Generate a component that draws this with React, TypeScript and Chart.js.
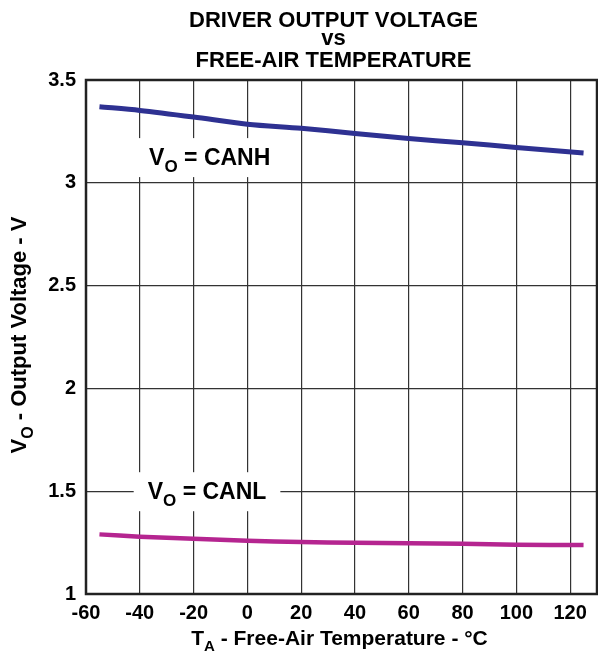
import React, { useEffect, useRef } from 'react';
import { Chart, registerables } from 'chart.js';

Chart.register(...registerables);

const temps = [-55, -40, -20, 0, 20, 40, 60, 80, 100, 125];
const canh = [3.37, 3.352, 3.32, 3.285, 3.265, 3.24, 3.215, 3.195, 3.172, 3.145];
const canl = [1.29, 1.279, 1.269, 1.259, 1.253, 1.249, 1.247, 1.245, 1.24, 1.238];
const xTicks = [-60, -40, -20, 0, 20, 40, 60, 80, 100, 120];
const yTicks = [1, 1.5, 2, 2.5, 3, 3.5];
const titleLines = ['DRIVER OUTPUT VOLTAGE', 'vs', 'FREE-AIR TEMPERATURE'];
const canhLabel = { x: -14, y: 3.125, main: 'V', sub: 'O', rest: ' = CANH' };
const canlLabel = { x: -15, y: 1.5, main: 'V', sub: 'O', rest: ' = CANL' };

const FAMILY = "'Liberation Sans', Arial, Helvetica, sans-serif";

type Part = { t: string; sub?: boolean };

function drawParts(ctx: CanvasRenderingContext2D, parts: Part[], cx: number, baseline: number, size: number) {
  const subSize = Math.round(size * 0.72);
  let total = 0;
  const widths = parts.map((p) => {
    ctx.font = `bold ${p.sub ? subSize : size}px ${FAMILY}`;
    const w = ctx.measureText(p.t).width;
    total += w;
    return w;
  });
  let x = cx - total / 2;
  ctx.textAlign = 'left';
  ctx.textBaseline = 'alphabetic';
  parts.forEach((p, i) => {
    ctx.font = `bold ${p.sub ? subSize : size}px ${FAMILY}`;
    ctx.fillText(p.t, x, baseline + (p.sub ? size * 0.3 : 0));
    x += widths[i];
  });
  return total;
}

const decorPlugin = {
  id: 'decor',
  beforeDatasetsDraw(chart: any) {
    const ctx: CanvasRenderingContext2D = chart.ctx;
    const xs = chart.scales.x;
    const ys = chart.scales.y;
    const size = 23;
    [canhLabel, canlLabel].forEach((l) => {
      const cx = xs.getPixelForValue(l.x);
      const cy = ys.getPixelForValue(l.y);
      const baseline = cy + size * 0.716 / 2;
      ctx.save();
      const parts: Part[] = [{ t: l.main }, { t: l.sub, sub: true }, { t: l.rest }];
      let total = 0;
      parts.forEach((p) => {
        ctx.font = `bold ${p.sub ? Math.round(size * 0.72) : size}px ${FAMILY}`;
        total += ctx.measureText(p.t).width;
      });
      ctx.fillStyle = '#ffffff';
      ctx.fillRect(cx - total / 2 - 14, cy - 19, total + 28, 39);
      ctx.fillStyle = '#000000';
      drawParts(ctx, parts, cx, baseline, size);
      ctx.restore();
    });
  },
  afterDraw(chart: any) {
    const ctx: CanvasRenderingContext2D = chart.ctx;
    const a = chart.chartArea;
    ctx.save();
    ctx.strokeStyle = '#222222';
    ctx.lineWidth = 2.5;
    ctx.strokeRect(a.left, a.top, a.right - a.left, a.bottom - a.top);
    ctx.fillStyle = '#000000';
    ctx.font = `bold 22px ${FAMILY}`;
    ctx.textAlign = 'center';
    ctx.textBaseline = 'alphabetic';
    const tcx = (a.left + a.right) / 2 - 8;
    ctx.fillText(titleLines[0], tcx, 27);
    ctx.fillText(titleLines[1], tcx, 45);
    ctx.fillText(titleLines[2], tcx, 67);
    drawParts(ctx, [{ t: 'T' }, { t: 'A', sub: true }, { t: ' - Free-Air Temperature - °C' }], (a.left + a.right) / 2 - 2, 645, 21);
    ctx.translate(26, (a.top + a.bottom) / 2 - 2);
    ctx.rotate(-Math.PI / 2);
    drawParts(ctx, [{ t: 'V' }, { t: 'O', sub: true }, { t: ' - Output Voltage - V' }], 0, 0, 22);
    ctx.restore();
  },
};

export default function App() {
  const ref = useRef<HTMLCanvasElement | null>(null);
  useEffect(() => {
    document.body.style.margin = '0';
    const canvas = ref.current;
    if (!canvas) return;
    const tickFont = { family: FAMILY, size: 20, weight: 'bold' as const };
    const chart = new Chart(canvas, {
      type: 'line',
      data: {
        datasets: [
          {
            label: 'CANH',
            data: temps.map((t, i) => ({ x: t, y: canh[i] })),
            borderColor: '#2e3192',
            borderWidth: 5,
            pointRadius: 0,
            tension: 0.3,
            fill: false,
          },
          {
            label: 'CANL',
            data: temps.map((t, i) => ({ x: t, y: canl[i] })),
            borderColor: '#b52590',
            borderWidth: 4.5,
            pointRadius: 0,
            tension: 0.3,
            fill: false,
          },
        ],
      },
      options: {
        animation: false,
        responsive: false,
        devicePixelRatio: 1,
        layout: { padding: { top: 80, right: 1, left: 0, bottom: 0 } },
        plugins: {
          legend: { display: false },
          title: { display: false },
          tooltip: { enabled: false },
        },
        scales: {
          x: {
            type: 'linear',
            min: -60,
            max: 130,
            afterBuildTicks: (s: any) => {
              s.ticks = xTicks.map((v) => ({ value: v }));
            },
            afterFit: (s: any) => {
              s.height = 68;
            },
            grid: { color: '#333333', lineWidth: 1.2, drawTicks: false },
            border: { display: false },
            ticks: { font: tickFont, color: '#000000', padding: 7, maxRotation: 0, callback: (v: any) => String(v) },
          },
          y: {
            type: 'linear',
            min: 1,
            max: 3.5,
            afterBuildTicks: (s: any) => {
              s.ticks = yTicks.map((v) => ({ value: v }));
            },
            afterFit: (s: any) => {
              s.width = 86;
            },
            grid: { color: '#333333', lineWidth: 1.2, drawTicks: false },
            border: { display: false },
            ticks: { font: tickFont, color: '#000000', padding: 10, callback: (v: any) => String(v) },
          },
        },
      },
      plugins: [decorPlugin],
    });
    return () => chart.destroy();
  }, []);
  return <canvas ref={ref} width={598} height={662} style={{ display: 'block' }} />;
}
